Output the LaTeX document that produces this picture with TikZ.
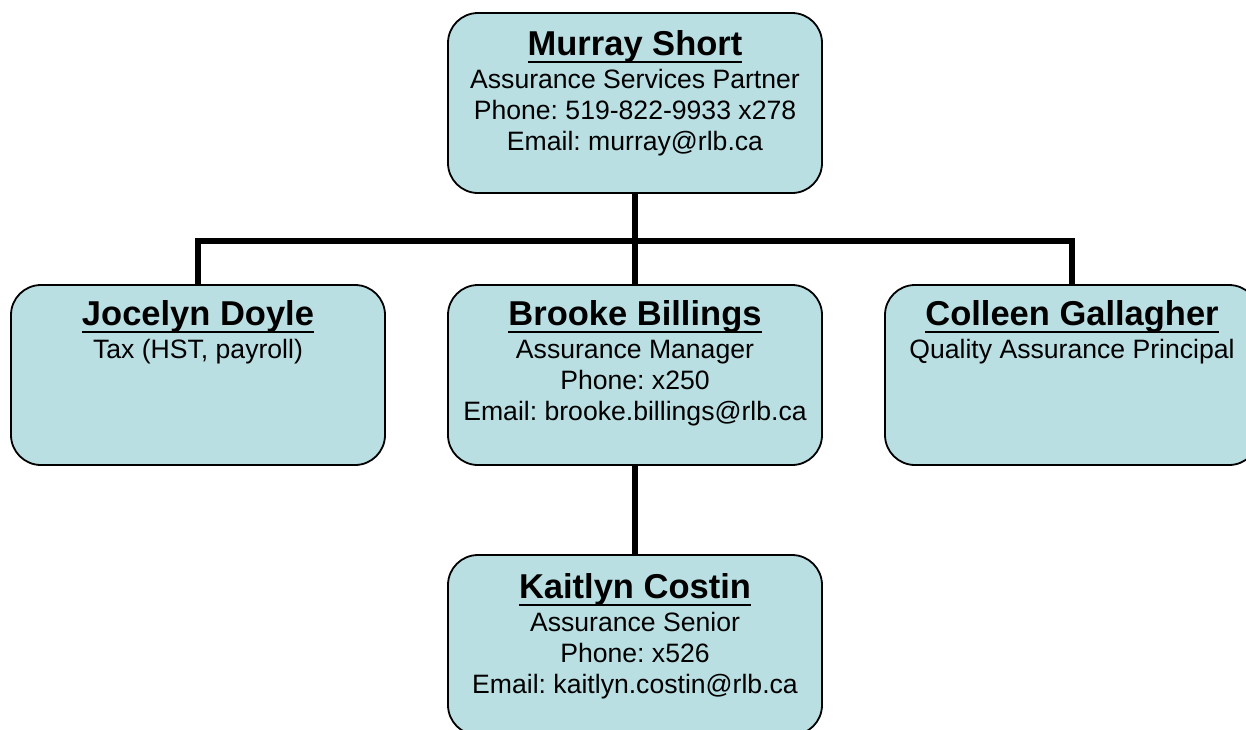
\documentclass[tikz,border=0pt]{standalone}
\usepackage{fontspec}
\setmainfont{Liberation Sans}
\frenchspacing
\usetikzlibrary{positioning}
\definecolor{boxfill}{RGB}{185,223,227}
\newcommand{\pname}[1]{{\fontsize{34.5}{36}\selectfont\bfseries\setbox0\hbox{#1}\rlap{\rule[-8pt]{\wd0}{2.8pt}}\box0}}

\begin{document}
\begin{tikzpicture}[x=1pt,y=-1pt,
    person/.style={draw,line width=1.8pt,fill=boxfill,rounded corners=30pt,
      minimum width=374pt,minimum height=180pt,inner sep=0pt},
    info/.style={align=center,inner sep=0pt,font=\fontsize{26.6}{31}\selectfont},
    conn/.style={line width=6pt,line join=miter}]
  \clip (0,0) rectangle (1246,729);
  \node[person] (murray) at (635,103) {};
  \node[person] (jocelyn) at (198,375) {};
  \node[person] (brooke) at (635,375) {};
  \node[person] (colleen) at (1072,375) {};
  \node[person] (kaitlyn) at (635,645) {};
  \coordinate (bar) at (635,241);
  \draw[conn] (murray.south) -- (bar);
  \draw[conn] (jocelyn.north) |- (bar) -| (colleen.north);
  \draw[conn] (bar) -- (brooke.north);
  \draw[conn] (brooke.south) -- (kaitlyn.north);
  \node[info,below=18pt of murray.north] (murraytxt) {\pname{Murray Short}\\[2pt]
    Assurance Services Partner\\Phone: 519-822-9933 x278\\Email: murray@rlb.ca};
  \node[info,below=16pt of jocelyn.north] (jocelyntxt) {\pname{Jocelyn Doyle}\\[2pt]
    Tax (HST, payroll)};
  \node[info,below=16pt of brooke.north] (brooketxt) {\pname{Brooke Billings}\\[2pt]
    Assurance Manager\\Phone: x250\\Email: brooke.billings@rlb.ca};
  \node[info,below=16pt of colleen.north] (colleentxt) {\pname{Colleen Gallagher}\\[2pt]
    Quality Assurance Principal};
  \node[info,below=19pt of kaitlyn.north] (kaitlyntxt) {\pname{Kaitlyn Costin}\\[2pt]
    Assurance Senior\\Phone: x526\\Email: kaitlyn.costin@rlb.ca};
\end{tikzpicture}
\end{document}
